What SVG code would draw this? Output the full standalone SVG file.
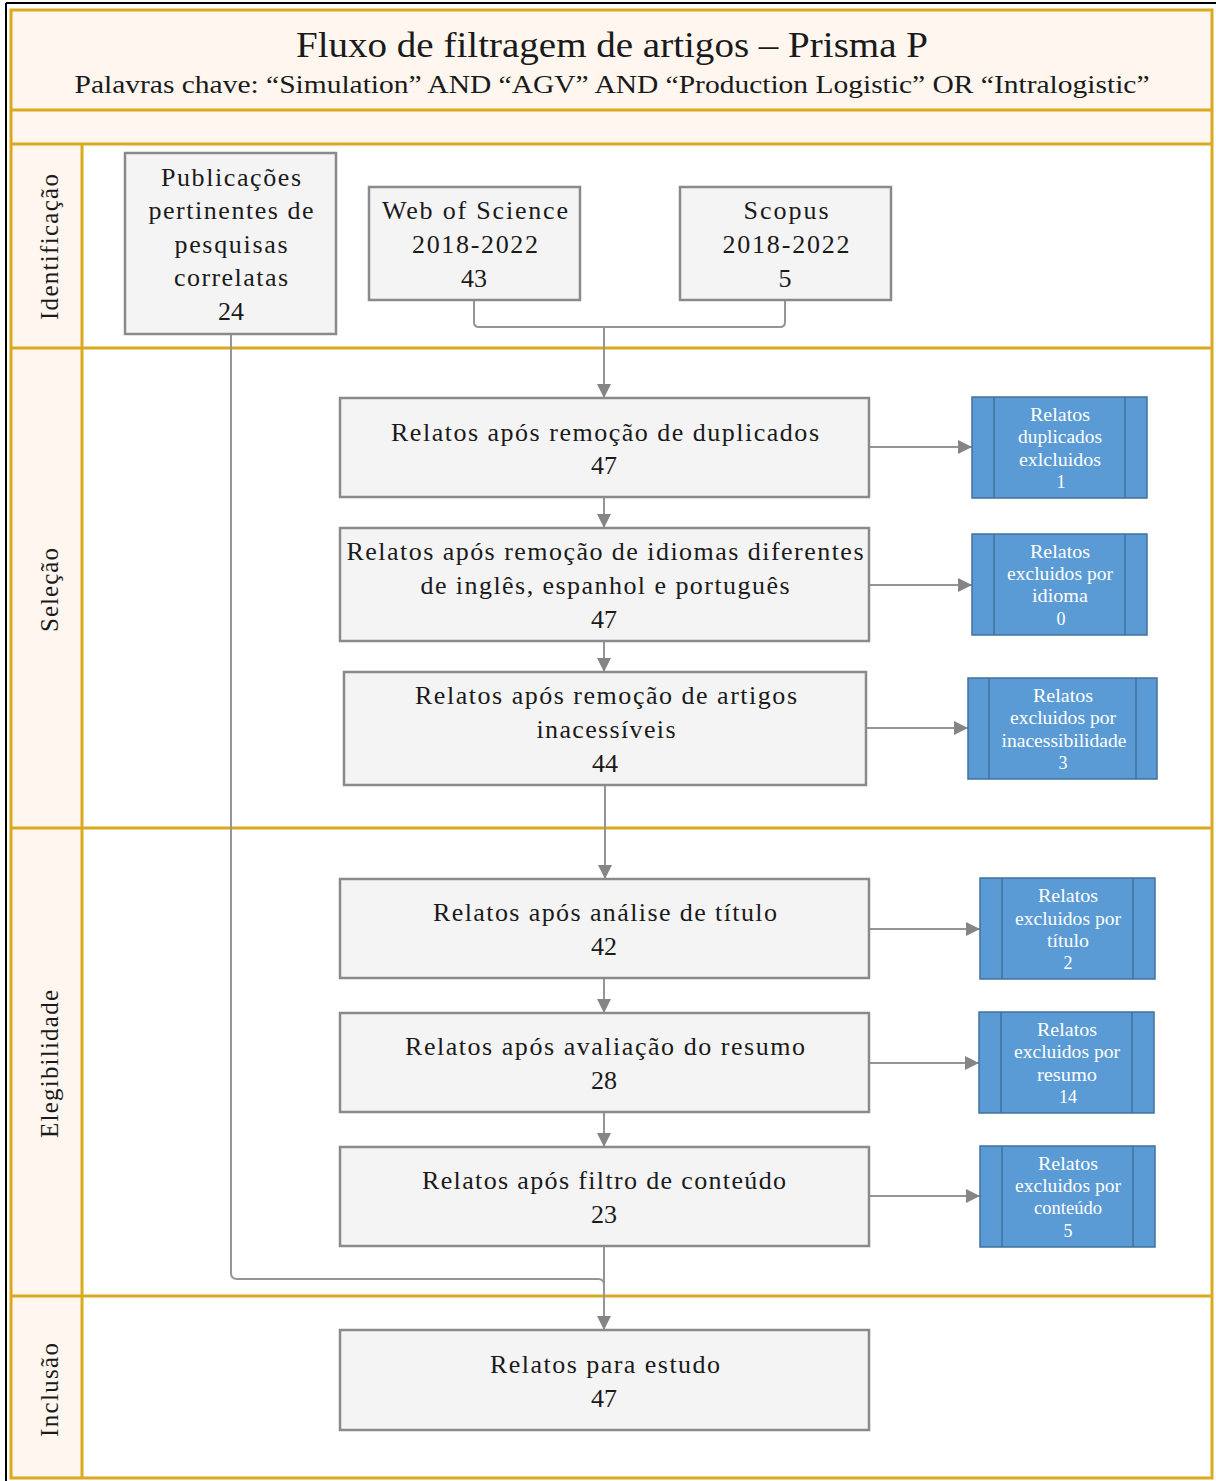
<svg xmlns="http://www.w3.org/2000/svg" width="1216" height="1481" viewBox="0 0 1216 1481">
<style>
.t{font-family:"Liberation Serif","Times New Roman",serif;fill:#1a1a1a;text-anchor:middle}
.n{font-size:26px}
.lane{font-family:"Liberation Serif","Times New Roman",serif;font-size:25px;fill:#1a1a1a;text-anchor:middle}
.box{fill:#f4f4f4;stroke:#8a8a8a;stroke-width:2.5}
.blue{fill:#5b9bd5;stroke:#41719c;stroke-width:1.5}
.bl{stroke:#41719c;stroke-width:1.5}
.bt{font-family:"Liberation Serif","Times New Roman",serif;font-size:18px;fill:#ffffff;text-anchor:middle}
.gold{stroke:#d9a920;stroke-width:3;fill:none}
.c{stroke:#959595;stroke-width:2;fill:none}
</style>
<defs>
<marker id="arr" viewBox="0 0 10 10" refX="10" refY="5" markerWidth="14" markerHeight="14" markerUnits="userSpaceOnUse" orient="auto"><path d="M0,0 L10,5 L0,10 z" fill="#858585"/></marker>
</defs>
<rect x="0" y="0" width="1216" height="1481" fill="#ffffff"/>
<line x1="6" y1="3" x2="1216" y2="3" stroke="#000" stroke-width="2"/>
<line x1="6" y1="3" x2="6" y2="1481" stroke="#000" stroke-width="2"/>
<g id="pool">
<rect x="11" y="10" width="1201" height="135" fill="#fef6ef"/>
<rect x="11" y="145" width="71" height="1333" fill="#fef6ef"/>
<rect x="11" y="10" width="1201" height="1468" class="gold"/>
<line x1="11" y1="110" x2="1212" y2="110" class="gold"/>
<line x1="11" y1="144" x2="1212" y2="144" class="gold"/>
<line x1="82" y1="144" x2="82" y2="1478" class="gold"/>
<line x1="11" y1="348" x2="1212" y2="348" class="gold"/>
<line x1="11" y1="828" x2="1212" y2="828" class="gold"/>
<line x1="11" y1="1296" x2="1212" y2="1296" class="gold"/>
<text class="t" x="612" y="57" font-size="35" textLength="632" lengthAdjust="spacingAndGlyphs">Fluxo de filtragem de artigos – Prisma P</text>
<text class="t" x="612" y="93" font-size="25" textLength="1075" lengthAdjust="spacingAndGlyphs">Palavras chave: “Simulation” AND “AGV” AND “Production Logistic” OR “Intralogistic”</text>
<text class="lane" transform="translate(58,247) rotate(-90)" textLength="146" lengthAdjust="spacing">Identificação</text>
<text class="lane" transform="translate(58,590) rotate(-90)" textLength="84" lengthAdjust="spacing">Seleção</text>
<text class="lane" transform="translate(58,1064) rotate(-90)" textLength="148" lengthAdjust="spacing">Elegibilidade</text>
<text class="lane" transform="translate(58,1390) rotate(-90)" textLength="94" lengthAdjust="spacing">Inclusão</text>
</g>
<g id="connectors">
<path class="c" d="M474,300 V322 Q474,327 479,327 H780 Q785,327 785,322 V300"/>
<path class="c" d="M604,327 V398" marker-end="url(#arr)"/>
<path class="c" d="M869,447 H972" marker-end="url(#arr)"/>
<path class="c" d="M604,497 V528" marker-end="url(#arr)"/>
<path class="c" d="M869,585 H972" marker-end="url(#arr)"/>
<path class="c" d="M604,641 V672" marker-end="url(#arr)"/>
<path class="c" d="M866,728 H968" marker-end="url(#arr)"/>
<path class="c" d="M605,785 V879" marker-end="url(#arr)"/>
<path class="c" d="M869,929 H980" marker-end="url(#arr)"/>
<path class="c" d="M604,978 V1013" marker-end="url(#arr)"/>
<path class="c" d="M869,1063 H979" marker-end="url(#arr)"/>
<path class="c" d="M604,1112 V1147" marker-end="url(#arr)"/>
<path class="c" d="M869,1196 H980" marker-end="url(#arr)"/>
<path class="c" d="M604,1246 V1330" marker-end="url(#arr)"/>
<path class="c" d="M231,334 V1273 Q231,1279 237,1279 H598 Q604,1279 604,1285"/>
</g>
<g id="n-publicacoes">
<rect class="box" x="125" y="153" width="211" height="181"/>
<text class="t n" x="231" y="186" textLength="140" lengthAdjust="spacing">Publicações</text>
<text class="t n" x="231" y="219" textLength="165" lengthAdjust="spacing">pertinentes de</text>
<text class="t n" x="231" y="253" textLength="113" lengthAdjust="spacing">pesquisas</text>
<text class="t n" x="231" y="286" textLength="114" lengthAdjust="spacing">correlatas</text>
<text class="t n" x="231" y="320">24</text>
</g>
<g id="n-wos">
<rect class="box" x="369" y="187" width="211" height="113"/>
<text class="t n" x="475" y="219" textLength="186" lengthAdjust="spacing">Web of Science</text>
<text class="t n" x="475" y="253" textLength="126" lengthAdjust="spacing">2018-2022</text>
<text class="t n" x="474" y="287">43</text>
</g>
<g id="n-scopus">
<rect class="box" x="680" y="187" width="211" height="113"/>
<text class="t n" x="786" y="219" textLength="85" lengthAdjust="spacing">Scopus</text>
<text class="t n" x="786" y="253" textLength="127" lengthAdjust="spacing">2018-2022</text>
<text class="t n" x="785" y="287">5</text>
</g>
<g id="n-dup">
<rect class="box" x="340" y="398" width="529" height="99"/>
<text class="t n" x="605" y="441" textLength="428" lengthAdjust="spacing">Relatos após remoção de duplicados</text>
<text class="t n" x="604" y="474">47</text>
</g>
<g id="n-idioma">
<rect class="box" x="340" y="528" width="529" height="113"/>
<text class="t n" x="605" y="560" textLength="517" lengthAdjust="spacing">Relatos após remoção de idiomas diferentes</text>
<text class="t n" x="605" y="594" textLength="369" lengthAdjust="spacing">de inglês, espanhol e português</text>
<text class="t n" x="604" y="628">47</text>
</g>
<g id="n-inacess">
<rect class="box" x="344" y="672" width="522" height="113"/>
<text class="t n" x="606" y="704" textLength="382" lengthAdjust="spacing">Relatos após remoção de artigos</text>
<text class="t n" x="606" y="738" textLength="139" lengthAdjust="spacing">inacessíveis</text>
<text class="t n" x="605" y="772">44</text>
</g>
<g id="n-titulo">
<rect class="box" x="340" y="879" width="529" height="99"/>
<text class="t n" x="605" y="921" textLength="344" lengthAdjust="spacing">Relatos após análise de título</text>
<text class="t n" x="604" y="955">42</text>
</g>
<g id="n-resumo">
<rect class="box" x="340" y="1013" width="529" height="99"/>
<text class="t n" x="605" y="1055" textLength="400" lengthAdjust="spacing">Relatos após avaliação do resumo</text>
<text class="t n" x="604" y="1089">28</text>
</g>
<g id="n-conteudo">
<rect class="box" x="340" y="1147" width="529" height="99"/>
<text class="t n" x="604" y="1189" textLength="364" lengthAdjust="spacing">Relatos após filtro de conteúdo</text>
<text class="t n" x="604" y="1223">23</text>
</g>
<g id="n-estudo">
<rect class="box" x="340" y="1330" width="529" height="100"/>
<text class="t n" x="605" y="1373" textLength="230" lengthAdjust="spacing">Relatos para estudo</text>
<text class="t n" x="604" y="1407">47</text>
</g>
<g id="x-dup">
<rect class="blue" x="972" y="397" width="175" height="101"/>
<line class="bl" x1="994" y1="397" x2="994" y2="498"/><line class="bl" x1="1125" y1="397" x2="1125" y2="498"/>
<text class="bt" x="1060" y="421" textLength="60" lengthAdjust="spacingAndGlyphs">Relatos</text>
<text class="bt" x="1060" y="443" textLength="84" lengthAdjust="spacingAndGlyphs">duplicados</text>
<text class="bt" x="1060" y="466" textLength="82" lengthAdjust="spacingAndGlyphs">exlcluidos</text>
<text class="bt" x="1061" y="488">1</text>
</g>
<g id="x-idioma">
<rect class="blue" x="972" y="534" width="175" height="101"/>
<line class="bl" x1="994" y1="534" x2="994" y2="635"/><line class="bl" x1="1125" y1="534" x2="1125" y2="635"/>
<text class="bt" x="1060" y="558" textLength="60" lengthAdjust="spacingAndGlyphs">Relatos</text>
<text class="bt" x="1060" y="580" textLength="106" lengthAdjust="spacingAndGlyphs">excluidos por</text>
<text class="bt" x="1060" y="602" textLength="56" lengthAdjust="spacingAndGlyphs">idioma</text>
<text class="bt" x="1061" y="625">0</text>
</g>
<g id="x-inacess">
<rect class="blue" x="968" y="678" width="189" height="101"/>
<line class="bl" x1="989" y1="678" x2="989" y2="779"/><line class="bl" x1="1136" y1="678" x2="1136" y2="779"/>
<text class="bt" x="1063" y="702" textLength="60" lengthAdjust="spacingAndGlyphs">Relatos</text>
<text class="bt" x="1063" y="724" textLength="106" lengthAdjust="spacingAndGlyphs">excluidos por</text>
<text class="bt" x="1064" y="747" textLength="125" lengthAdjust="spacingAndGlyphs">inacessibilidade</text>
<text class="bt" x="1063" y="769">3</text>
</g>
<g id="x-titulo">
<rect class="blue" x="980" y="878" width="175" height="101"/>
<line class="bl" x1="1002" y1="878" x2="1002" y2="979"/><line class="bl" x1="1133" y1="878" x2="1133" y2="979"/>
<text class="bt" x="1068" y="902" textLength="60" lengthAdjust="spacingAndGlyphs">Relatos</text>
<text class="bt" x="1068" y="925" textLength="106" lengthAdjust="spacingAndGlyphs">excluidos por</text>
<text class="bt" x="1068" y="947" textLength="42" lengthAdjust="spacingAndGlyphs">título</text>
<text class="bt" x="1068" y="969">2</text>
</g>
<g id="x-resumo">
<rect class="blue" x="979" y="1012" width="175" height="101"/>
<line class="bl" x1="1001" y1="1012" x2="1001" y2="1113"/><line class="bl" x1="1132" y1="1012" x2="1132" y2="1113"/>
<text class="bt" x="1067" y="1036" textLength="60" lengthAdjust="spacingAndGlyphs">Relatos</text>
<text class="bt" x="1067" y="1058" textLength="106" lengthAdjust="spacingAndGlyphs">excluidos por</text>
<text class="bt" x="1067" y="1081" textLength="60" lengthAdjust="spacingAndGlyphs">resumo</text>
<text class="bt" x="1068" y="1103">14</text>
</g>
<g id="x-conteudo">
<rect class="blue" x="980" y="1146" width="175" height="101"/>
<line class="bl" x1="1002" y1="1146" x2="1002" y2="1247"/><line class="bl" x1="1133" y1="1146" x2="1133" y2="1247"/>
<text class="bt" x="1068" y="1170" textLength="60" lengthAdjust="spacingAndGlyphs">Relatos</text>
<text class="bt" x="1068" y="1192" textLength="106" lengthAdjust="spacingAndGlyphs">excluidos por</text>
<text class="bt" x="1068" y="1214" textLength="68" lengthAdjust="spacingAndGlyphs">conteúdo</text>
<text class="bt" x="1068" y="1237">5</text>
</g>
</svg>
